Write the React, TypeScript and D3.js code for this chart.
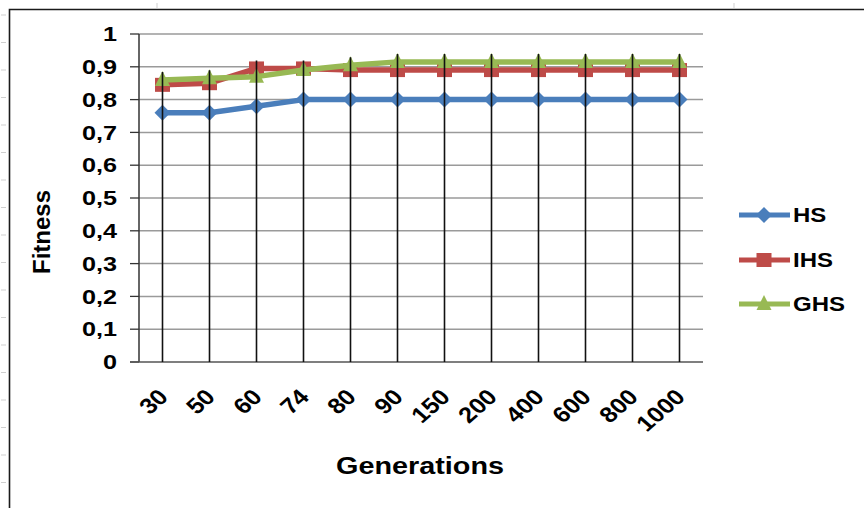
import React from "react";
import * as d3 from "d3";

const categories = ["30", "50", "60", "74", "80", "90", "150", "200", "400", "600", "800", "1000"];
const hsValues = [0.76, 0.76, 0.78, 0.8, 0.8, 0.8, 0.8, 0.8, 0.8, 0.8, 0.8, 0.8];
const ihsValues = [0.845, 0.85, 0.895, 0.895, 0.89, 0.89, 0.89, 0.89, 0.89, 0.89, 0.89, 0.89];
const ghsValues = [0.86, 0.865, 0.87, 0.89, 0.905, 0.915, 0.915, 0.915, 0.915, 0.915, 0.915, 0.915];
const yTicks = [0, 0.1, 0.2, 0.3, 0.4, 0.5, 0.6, 0.7, 0.8, 0.9, 1];
const seriesNames = ["HS", "IHS", "GHS"];
const seriesColors = ["#4a7ebb", "#be4b48", "#98b954"];

const W = 864;
const H = 508;
const FONT = "'Liberation Sans', Arial, sans-serif";

function Marker({ kind, x, y, color }: { kind: number; x: number; y: number; color: string }) {
  if (kind === 0) {
    const s = 8;
    return <path d={`M${x - s},${y} L${x},${y - s} L${x + s},${y} L${x},${y + s} Z`} fill={color} />;
  }
  if (kind === 1) {
    return <rect x={x - 7.5} y={y - 7} width={15} height={14} fill={color} />;
  }
  return <path d={`M${x},${y - 9} L${x + 7.5},${y + 6} L${x - 7.5},${y + 6} Z`} fill={color} />;
}

export default function App() {
  const x = d3.scaleBand<string>().domain(categories).range([139, 703]).paddingInner(0).paddingOuter(0);
  const cx = (c: string) => (x(c) as number) + x.bandwidth() / 2;
  const y = d3.scaleLinear().domain([0, 1]).range([362, 34]);
  const series = [hsValues, ihsValues, ghsValues];
  const line = d3
    .line<number>()
    .x((_, i) => cx(categories[i]))
    .y((d) => y(d));
  const fmt = (v: number) => (v === 0 || v === 1 ? String(v) : d3.format(".1f")(v).replace(".", ","));
  const sheetTicks = d3.range(15, H, 27.5);
  const legendY = [215, 260, 304];

  return (
    <svg width={W} height={H} style={{ position: "absolute", left: 0, top: 0, background: "#fff" }}>
      <rect x={0} y={0} width={W} height={H} fill="#fff" />
      {sheetTicks.map((t, i) => (
        <line key={"st" + i} x1={1} x2={6} y1={t} y2={t} stroke="#cfcfcf" strokeWidth={1} />
      ))}
      <line x1={157} x2={157} y1={3} y2={8} stroke="#cfcfcf" />
      <line x1={734} x2={734} y1={3} y2={8} stroke="#cfcfcf" />
      <path d={`M9.5,${H + 5} L9.5,9.5 L${W + 5},9.5`} fill="none" stroke="#1a1a1a" strokeWidth={1.6} />

      {/* gridlines */}
      {yTicks.map((t) => (
        <g key={"g" + t}>
          {t > 0 && <line x1={139} x2={703} y1={y(t)} y2={y(t)} stroke="#9a9a9a" strokeWidth={1.5} />}
          <line x1={130} x2={139} y1={y(t)} y2={y(t)} stroke="#333" strokeWidth={1.3} />
          <text
            x={117}
            y={y(t)}
            textAnchor="end"
            dominantBaseline="central"
            fontFamily={FONT}
            fontWeight="bold"
            fontSize={21}
            fill="#000"
            transform={`translate(117,0) scale(1.2,1) translate(-117,0)`}
          >
            {fmt(t)}
          </text>
        </g>
      ))}
      <line x1={139} x2={139} y1={y(1)} y2={y(0)} stroke="#333" strokeWidth={1.5} />
      <line x1={130} x2={703} y1={y(0)} y2={y(0)} stroke="#555" strokeWidth={1.5} />

      {/* series */}
      {series.map((vals, si) => (
        <g key={"s" + si}>
          <path d={line(vals) as string} fill="none" stroke={seriesColors[si]} strokeWidth={5.5} strokeLinejoin="round" />
          {vals.map((v, i) => (
            <Marker key={i} kind={si} x={cx(categories[i])} y={y(v)} color={seriesColors[si]} />
          ))}
        </g>
      ))}

      {/* drop lines */}
      {categories.map((c, i) => {
        const top = Math.max(hsValues[i], ihsValues[i], ghsValues[i]);
        return <line key={"d" + c} x1={cx(c)} x2={cx(c)} y1={y(top) - 8} y2={y(0)} stroke="#111" strokeWidth={1.6} />;
      })}

      {/* x labels */}
      {categories.map((c) => (
        <text
          key={"xl" + c}
          transform={`translate(${cx(c) + 1},393) scale(1.15,1) rotate(-45)`}
          textAnchor="end"
          dominantBaseline="central"
          fontFamily={FONT}
          fontWeight="bold"
          fontSize={22}
          fill="#000"
        >
          {c}
        </text>
      ))}

      <text
        transform="translate(50,232) rotate(-90)"
        textAnchor="middle"
        fontFamily={FONT}
        fontWeight="bold"
        fontSize={24}
        fill="#000"
      >
        Fitness
      </text>
      <text
        x={420}
        y={474}
        textAnchor="middle"
        fontFamily={FONT}
        fontWeight="bold"
        fontSize={24}
        fill="#000"
        transform="translate(420,0) scale(1.2,1) translate(-420,0)"
      >
        Generations
      </text>

      {/* legend */}
      {seriesNames.map((n, i) => (
        <g key={"lg" + n}>
          <line x1={739} x2={790} y1={legendY[i]} y2={legendY[i]} stroke={seriesColors[i]} strokeWidth={5} />
          <Marker kind={i} x={764} y={legendY[i]} color={seriesColors[i]} />
          <text
            x={793}
            y={legendY[i]}
            dominantBaseline="central"
            fontFamily={FONT}
            fontWeight="bold"
            fontSize={20}
            fill="#000"
            transform="translate(793,0) scale(1.2,1) translate(-793,0)"
          >
            {n}
          </text>
        </g>
      ))}
    </svg>
  );
}
